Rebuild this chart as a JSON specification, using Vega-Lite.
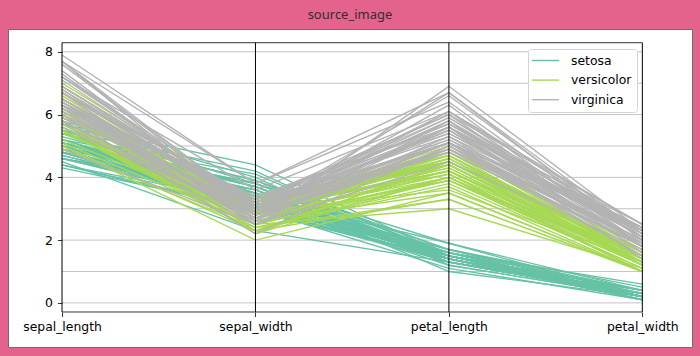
{
"$schema": "https://vega.github.io/schema/vega-lite/v6.json",
"width": 684, "height": 318,
"autosize": {"type": "none"},
"padding": {"left": 8, "top": 29, "right": 8, "bottom": 9},
"background": "#e4638d",
"title": {"text": "source_image", "anchor": "middle", "frame": "group", "orient": "top", "baseline": "alphabetic", "offset": -3, "font": "Noto Sans", "fontSize": 13, "fontWeight": "normal", "color": "#3b2a31"},
"config": {
  "view": {"fill": "white", "stroke": "#6e6e6e", "strokeWidth": 1},
  "axis": {"labelFont": "DejaVu Sans", "labelFontSize": 12.4, "labelColor": "#000000", "tickColor": "#000000", "tickWidth": 0.8, "tickSize": 4.5, "domain": false, "grid": false, "title": null},
  "legend": {"orient": "none", "legendX": 520, "legendY": 20, "title": null, "symbolType": "M-1.4,0H3.6", "symbolSize": 116.6, "symbolStrokeWidth": 1.4, "labelFont": "DejaVu Sans", "labelFontSize": 12.4, "labelColor": "#000000", "labelOffset": 25, "padding": 5, "rowPadding": 6.6, "strokeColor": "#d5d5d5", "cornerRadius": 3, "fillColor": "white"}
},
"datasets": {
"grid": [{"v":0,"key":"sepal_length","key2":"petal_width"},{"v":1,"key":"sepal_length","key2":"petal_width"},{"v":2,"key":"sepal_length","key2":"petal_width"},{"v":3,"key":"sepal_length","key2":"petal_width"},{"v":4,"key":"sepal_length","key2":"petal_width"},{"v":5,"key":"sepal_length","key2":"petal_width"},{"v":6,"key":"sepal_length","key2":"petal_width"},{"v":7,"key":"sepal_length","key2":"petal_width"},{"v":8,"key":"sepal_length","key2":"petal_width"}],
"vlines": [{"key":"sepal_length","lo":-0.29,"hi":8.29},{"key":"sepal_width","lo":-0.29,"hi":8.29},{"key":"petal_length","lo":-0.29,"hi":8.29},{"key":"petal_width","lo":-0.29,"hi":8.29}],
"spines": [{"key":"sepal_length","key2":"petal_width","v":8.29},{"key":"sepal_length","key2":"petal_width","v":-0.29}],
"iris": [
{"id":1,"species":"setosa","sepal_length":5.1,"sepal_width":3.5,"petal_length":1.4,"petal_width":0.2},
{"id":2,"species":"setosa","sepal_length":4.9,"sepal_width":3.0,"petal_length":1.4,"petal_width":0.2},
{"id":3,"species":"setosa","sepal_length":4.7,"sepal_width":3.2,"petal_length":1.3,"petal_width":0.2},
{"id":4,"species":"setosa","sepal_length":4.6,"sepal_width":3.1,"petal_length":1.5,"petal_width":0.2},
{"id":5,"species":"setosa","sepal_length":5.0,"sepal_width":3.6,"petal_length":1.4,"petal_width":0.2},
{"id":6,"species":"setosa","sepal_length":5.4,"sepal_width":3.9,"petal_length":1.7,"petal_width":0.4},
{"id":7,"species":"setosa","sepal_length":4.6,"sepal_width":3.4,"petal_length":1.4,"petal_width":0.3},
{"id":8,"species":"setosa","sepal_length":5.0,"sepal_width":3.4,"petal_length":1.5,"petal_width":0.2},
{"id":9,"species":"setosa","sepal_length":4.4,"sepal_width":2.9,"petal_length":1.4,"petal_width":0.2},
{"id":10,"species":"setosa","sepal_length":4.9,"sepal_width":3.1,"petal_length":1.5,"petal_width":0.1},
{"id":11,"species":"setosa","sepal_length":5.4,"sepal_width":3.7,"petal_length":1.5,"petal_width":0.2},
{"id":12,"species":"setosa","sepal_length":4.8,"sepal_width":3.4,"petal_length":1.6,"petal_width":0.2},
{"id":13,"species":"setosa","sepal_length":4.8,"sepal_width":3.0,"petal_length":1.4,"petal_width":0.1},
{"id":14,"species":"setosa","sepal_length":4.3,"sepal_width":3.0,"petal_length":1.1,"petal_width":0.1},
{"id":15,"species":"setosa","sepal_length":5.8,"sepal_width":4.0,"petal_length":1.2,"petal_width":0.2},
{"id":16,"species":"setosa","sepal_length":5.7,"sepal_width":4.4,"petal_length":1.5,"petal_width":0.4},
{"id":17,"species":"setosa","sepal_length":5.4,"sepal_width":3.9,"petal_length":1.3,"petal_width":0.4},
{"id":18,"species":"setosa","sepal_length":5.1,"sepal_width":3.5,"petal_length":1.4,"petal_width":0.3},
{"id":19,"species":"setosa","sepal_length":5.7,"sepal_width":3.8,"petal_length":1.7,"petal_width":0.3},
{"id":20,"species":"setosa","sepal_length":5.1,"sepal_width":3.8,"petal_length":1.5,"petal_width":0.3},
{"id":21,"species":"setosa","sepal_length":5.4,"sepal_width":3.4,"petal_length":1.7,"petal_width":0.2},
{"id":22,"species":"setosa","sepal_length":5.1,"sepal_width":3.7,"petal_length":1.5,"petal_width":0.4},
{"id":23,"species":"setosa","sepal_length":4.6,"sepal_width":3.6,"petal_length":1.0,"petal_width":0.2},
{"id":24,"species":"setosa","sepal_length":5.1,"sepal_width":3.3,"petal_length":1.7,"petal_width":0.5},
{"id":25,"species":"setosa","sepal_length":4.8,"sepal_width":3.4,"petal_length":1.9,"petal_width":0.2},
{"id":26,"species":"setosa","sepal_length":5.0,"sepal_width":3.0,"petal_length":1.6,"petal_width":0.2},
{"id":27,"species":"setosa","sepal_length":5.0,"sepal_width":3.4,"petal_length":1.6,"petal_width":0.4},
{"id":28,"species":"setosa","sepal_length":5.2,"sepal_width":3.5,"petal_length":1.5,"petal_width":0.2},
{"id":29,"species":"setosa","sepal_length":5.2,"sepal_width":3.4,"petal_length":1.4,"petal_width":0.2},
{"id":30,"species":"setosa","sepal_length":4.7,"sepal_width":3.2,"petal_length":1.6,"petal_width":0.2},
{"id":31,"species":"setosa","sepal_length":4.8,"sepal_width":3.1,"petal_length":1.6,"petal_width":0.2},
{"id":32,"species":"setosa","sepal_length":5.4,"sepal_width":3.4,"petal_length":1.5,"petal_width":0.4},
{"id":33,"species":"setosa","sepal_length":5.2,"sepal_width":4.1,"petal_length":1.5,"petal_width":0.1},
{"id":34,"species":"setosa","sepal_length":5.5,"sepal_width":4.2,"petal_length":1.4,"petal_width":0.2},
{"id":35,"species":"setosa","sepal_length":4.9,"sepal_width":3.1,"petal_length":1.5,"petal_width":0.2},
{"id":36,"species":"setosa","sepal_length":5.0,"sepal_width":3.2,"petal_length":1.2,"petal_width":0.2},
{"id":37,"species":"setosa","sepal_length":5.5,"sepal_width":3.5,"petal_length":1.3,"petal_width":0.2},
{"id":38,"species":"setosa","sepal_length":4.9,"sepal_width":3.6,"petal_length":1.4,"petal_width":0.1},
{"id":39,"species":"setosa","sepal_length":4.4,"sepal_width":3.0,"petal_length":1.3,"petal_width":0.2},
{"id":40,"species":"setosa","sepal_length":5.1,"sepal_width":3.4,"petal_length":1.5,"petal_width":0.2},
{"id":41,"species":"setosa","sepal_length":5.0,"sepal_width":3.5,"petal_length":1.3,"petal_width":0.3},
{"id":42,"species":"setosa","sepal_length":4.5,"sepal_width":2.3,"petal_length":1.3,"petal_width":0.3},
{"id":43,"species":"setosa","sepal_length":4.4,"sepal_width":3.2,"petal_length":1.3,"petal_width":0.2},
{"id":44,"species":"setosa","sepal_length":5.0,"sepal_width":3.5,"petal_length":1.6,"petal_width":0.6},
{"id":45,"species":"setosa","sepal_length":5.1,"sepal_width":3.8,"petal_length":1.9,"petal_width":0.4},
{"id":46,"species":"setosa","sepal_length":4.8,"sepal_width":3.0,"petal_length":1.4,"petal_width":0.3},
{"id":47,"species":"setosa","sepal_length":5.1,"sepal_width":3.8,"petal_length":1.6,"petal_width":0.2},
{"id":48,"species":"setosa","sepal_length":4.6,"sepal_width":3.2,"petal_length":1.4,"petal_width":0.2},
{"id":49,"species":"setosa","sepal_length":5.3,"sepal_width":3.7,"petal_length":1.5,"petal_width":0.2},
{"id":50,"species":"setosa","sepal_length":5.0,"sepal_width":3.3,"petal_length":1.4,"petal_width":0.2},
{"id":51,"species":"versicolor","sepal_length":7.0,"sepal_width":3.2,"petal_length":4.7,"petal_width":1.4},
{"id":52,"species":"versicolor","sepal_length":6.4,"sepal_width":3.2,"petal_length":4.5,"petal_width":1.5},
{"id":53,"species":"versicolor","sepal_length":6.9,"sepal_width":3.1,"petal_length":4.9,"petal_width":1.5},
{"id":54,"species":"versicolor","sepal_length":5.5,"sepal_width":2.3,"petal_length":4.0,"petal_width":1.3},
{"id":55,"species":"versicolor","sepal_length":6.5,"sepal_width":2.8,"petal_length":4.6,"petal_width":1.5},
{"id":56,"species":"versicolor","sepal_length":5.7,"sepal_width":2.8,"petal_length":4.5,"petal_width":1.3},
{"id":57,"species":"versicolor","sepal_length":6.3,"sepal_width":3.3,"petal_length":4.7,"petal_width":1.6},
{"id":58,"species":"versicolor","sepal_length":4.9,"sepal_width":2.4,"petal_length":3.3,"petal_width":1.0},
{"id":59,"species":"versicolor","sepal_length":6.6,"sepal_width":2.9,"petal_length":4.6,"petal_width":1.3},
{"id":60,"species":"versicolor","sepal_length":5.2,"sepal_width":2.7,"petal_length":3.9,"petal_width":1.4},
{"id":61,"species":"versicolor","sepal_length":5.0,"sepal_width":2.0,"petal_length":3.5,"petal_width":1.0},
{"id":62,"species":"versicolor","sepal_length":5.9,"sepal_width":3.0,"petal_length":4.2,"petal_width":1.5},
{"id":63,"species":"versicolor","sepal_length":6.0,"sepal_width":2.2,"petal_length":4.0,"petal_width":1.0},
{"id":64,"species":"versicolor","sepal_length":6.1,"sepal_width":2.9,"petal_length":4.7,"petal_width":1.4},
{"id":65,"species":"versicolor","sepal_length":5.6,"sepal_width":2.9,"petal_length":3.6,"petal_width":1.3},
{"id":66,"species":"versicolor","sepal_length":6.7,"sepal_width":3.1,"petal_length":4.4,"petal_width":1.4},
{"id":67,"species":"versicolor","sepal_length":5.6,"sepal_width":3.0,"petal_length":4.5,"petal_width":1.5},
{"id":68,"species":"versicolor","sepal_length":5.8,"sepal_width":2.7,"petal_length":4.1,"petal_width":1.0},
{"id":69,"species":"versicolor","sepal_length":6.2,"sepal_width":2.2,"petal_length":4.5,"petal_width":1.5},
{"id":70,"species":"versicolor","sepal_length":5.6,"sepal_width":2.5,"petal_length":3.9,"petal_width":1.1},
{"id":71,"species":"versicolor","sepal_length":5.9,"sepal_width":3.2,"petal_length":4.8,"petal_width":1.8},
{"id":72,"species":"versicolor","sepal_length":6.1,"sepal_width":2.8,"petal_length":4.0,"petal_width":1.3},
{"id":73,"species":"versicolor","sepal_length":6.3,"sepal_width":2.5,"petal_length":4.9,"petal_width":1.5},
{"id":74,"species":"versicolor","sepal_length":6.1,"sepal_width":2.8,"petal_length":4.7,"petal_width":1.2},
{"id":75,"species":"versicolor","sepal_length":6.4,"sepal_width":2.9,"petal_length":4.3,"petal_width":1.3},
{"id":76,"species":"versicolor","sepal_length":6.6,"sepal_width":3.0,"petal_length":4.4,"petal_width":1.4},
{"id":77,"species":"versicolor","sepal_length":6.8,"sepal_width":2.8,"petal_length":4.8,"petal_width":1.4},
{"id":78,"species":"versicolor","sepal_length":6.7,"sepal_width":3.0,"petal_length":5.0,"petal_width":1.7},
{"id":79,"species":"versicolor","sepal_length":6.0,"sepal_width":2.9,"petal_length":4.5,"petal_width":1.5},
{"id":80,"species":"versicolor","sepal_length":5.7,"sepal_width":2.6,"petal_length":3.5,"petal_width":1.0},
{"id":81,"species":"versicolor","sepal_length":5.5,"sepal_width":2.4,"petal_length":3.8,"petal_width":1.1},
{"id":82,"species":"versicolor","sepal_length":5.5,"sepal_width":2.4,"petal_length":3.7,"petal_width":1.0},
{"id":83,"species":"versicolor","sepal_length":5.8,"sepal_width":2.7,"petal_length":3.9,"petal_width":1.2},
{"id":84,"species":"versicolor","sepal_length":6.0,"sepal_width":2.7,"petal_length":5.1,"petal_width":1.6},
{"id":85,"species":"versicolor","sepal_length":5.4,"sepal_width":3.0,"petal_length":4.5,"petal_width":1.5},
{"id":86,"species":"versicolor","sepal_length":6.0,"sepal_width":3.4,"petal_length":4.5,"petal_width":1.6},
{"id":87,"species":"versicolor","sepal_length":6.7,"sepal_width":3.1,"petal_length":4.7,"petal_width":1.5},
{"id":88,"species":"versicolor","sepal_length":6.3,"sepal_width":2.3,"petal_length":4.4,"petal_width":1.3},
{"id":89,"species":"versicolor","sepal_length":5.6,"sepal_width":3.0,"petal_length":4.1,"petal_width":1.3},
{"id":90,"species":"versicolor","sepal_length":5.5,"sepal_width":2.5,"petal_length":4.0,"petal_width":1.3},
{"id":91,"species":"versicolor","sepal_length":5.5,"sepal_width":2.6,"petal_length":4.4,"petal_width":1.2},
{"id":92,"species":"versicolor","sepal_length":6.1,"sepal_width":3.0,"petal_length":4.6,"petal_width":1.4},
{"id":93,"species":"versicolor","sepal_length":5.8,"sepal_width":2.6,"petal_length":4.0,"petal_width":1.2},
{"id":94,"species":"versicolor","sepal_length":5.0,"sepal_width":2.3,"petal_length":3.3,"petal_width":1.0},
{"id":95,"species":"versicolor","sepal_length":5.6,"sepal_width":2.7,"petal_length":4.2,"petal_width":1.3},
{"id":96,"species":"versicolor","sepal_length":5.7,"sepal_width":3.0,"petal_length":4.2,"petal_width":1.2},
{"id":97,"species":"versicolor","sepal_length":5.7,"sepal_width":2.9,"petal_length":4.2,"petal_width":1.3},
{"id":98,"species":"versicolor","sepal_length":6.2,"sepal_width":2.9,"petal_length":4.3,"petal_width":1.3},
{"id":99,"species":"versicolor","sepal_length":5.1,"sepal_width":2.5,"petal_length":3.0,"petal_width":1.1},
{"id":100,"species":"versicolor","sepal_length":5.7,"sepal_width":2.8,"petal_length":4.1,"petal_width":1.3},
{"id":101,"species":"virginica","sepal_length":6.3,"sepal_width":3.3,"petal_length":6.0,"petal_width":2.5},
{"id":102,"species":"virginica","sepal_length":5.8,"sepal_width":2.7,"petal_length":5.1,"petal_width":1.9},
{"id":103,"species":"virginica","sepal_length":7.1,"sepal_width":3.0,"petal_length":5.9,"petal_width":2.1},
{"id":104,"species":"virginica","sepal_length":6.3,"sepal_width":2.9,"petal_length":5.6,"petal_width":1.8},
{"id":105,"species":"virginica","sepal_length":6.5,"sepal_width":3.0,"petal_length":5.8,"petal_width":2.2},
{"id":106,"species":"virginica","sepal_length":7.6,"sepal_width":3.0,"petal_length":6.6,"petal_width":2.1},
{"id":107,"species":"virginica","sepal_length":4.9,"sepal_width":2.5,"petal_length":4.5,"petal_width":1.7},
{"id":108,"species":"virginica","sepal_length":7.3,"sepal_width":2.9,"petal_length":6.3,"petal_width":1.8},
{"id":109,"species":"virginica","sepal_length":6.7,"sepal_width":2.5,"petal_length":5.8,"petal_width":1.8},
{"id":110,"species":"virginica","sepal_length":7.2,"sepal_width":3.6,"petal_length":6.1,"petal_width":2.5},
{"id":111,"species":"virginica","sepal_length":6.5,"sepal_width":3.2,"petal_length":5.1,"petal_width":2.0},
{"id":112,"species":"virginica","sepal_length":6.4,"sepal_width":2.7,"petal_length":5.3,"petal_width":1.9},
{"id":113,"species":"virginica","sepal_length":6.8,"sepal_width":3.0,"petal_length":5.5,"petal_width":2.1},
{"id":114,"species":"virginica","sepal_length":5.7,"sepal_width":2.5,"petal_length":5.0,"petal_width":2.0},
{"id":115,"species":"virginica","sepal_length":5.8,"sepal_width":2.8,"petal_length":5.1,"petal_width":2.4},
{"id":116,"species":"virginica","sepal_length":6.4,"sepal_width":3.2,"petal_length":5.3,"petal_width":2.3},
{"id":117,"species":"virginica","sepal_length":6.5,"sepal_width":3.0,"petal_length":5.5,"petal_width":1.8},
{"id":118,"species":"virginica","sepal_length":7.7,"sepal_width":3.8,"petal_length":6.7,"petal_width":2.2},
{"id":119,"species":"virginica","sepal_length":7.7,"sepal_width":2.6,"petal_length":6.9,"petal_width":2.3},
{"id":120,"species":"virginica","sepal_length":6.0,"sepal_width":2.2,"petal_length":5.0,"petal_width":1.5},
{"id":121,"species":"virginica","sepal_length":6.9,"sepal_width":3.2,"petal_length":5.7,"petal_width":2.3},
{"id":122,"species":"virginica","sepal_length":5.6,"sepal_width":2.8,"petal_length":4.9,"petal_width":2.0},
{"id":123,"species":"virginica","sepal_length":7.7,"sepal_width":2.8,"petal_length":6.7,"petal_width":2.0},
{"id":124,"species":"virginica","sepal_length":6.3,"sepal_width":2.7,"petal_length":4.9,"petal_width":1.8},
{"id":125,"species":"virginica","sepal_length":6.7,"sepal_width":3.3,"petal_length":5.7,"petal_width":2.1},
{"id":126,"species":"virginica","sepal_length":7.2,"sepal_width":3.2,"petal_length":6.0,"petal_width":1.8},
{"id":127,"species":"virginica","sepal_length":6.2,"sepal_width":2.8,"petal_length":4.8,"petal_width":1.8},
{"id":128,"species":"virginica","sepal_length":6.1,"sepal_width":3.0,"petal_length":4.9,"petal_width":1.8},
{"id":129,"species":"virginica","sepal_length":6.4,"sepal_width":2.8,"petal_length":5.6,"petal_width":2.1},
{"id":130,"species":"virginica","sepal_length":7.2,"sepal_width":3.0,"petal_length":5.8,"petal_width":1.6},
{"id":131,"species":"virginica","sepal_length":7.4,"sepal_width":2.8,"petal_length":6.1,"petal_width":1.9},
{"id":132,"species":"virginica","sepal_length":7.9,"sepal_width":3.8,"petal_length":6.4,"petal_width":2.0},
{"id":133,"species":"virginica","sepal_length":6.4,"sepal_width":2.8,"petal_length":5.6,"petal_width":2.2},
{"id":134,"species":"virginica","sepal_length":6.3,"sepal_width":2.8,"petal_length":5.1,"petal_width":1.5},
{"id":135,"species":"virginica","sepal_length":6.1,"sepal_width":2.6,"petal_length":5.6,"petal_width":1.4},
{"id":136,"species":"virginica","sepal_length":7.7,"sepal_width":3.0,"petal_length":6.1,"petal_width":2.3},
{"id":137,"species":"virginica","sepal_length":6.3,"sepal_width":3.4,"petal_length":5.6,"petal_width":2.4},
{"id":138,"species":"virginica","sepal_length":6.4,"sepal_width":3.1,"petal_length":5.5,"petal_width":1.8},
{"id":139,"species":"virginica","sepal_length":6.0,"sepal_width":3.0,"petal_length":4.8,"petal_width":1.8},
{"id":140,"species":"virginica","sepal_length":6.9,"sepal_width":3.1,"petal_length":5.4,"petal_width":2.1},
{"id":141,"species":"virginica","sepal_length":6.7,"sepal_width":3.1,"petal_length":5.6,"petal_width":2.4},
{"id":142,"species":"virginica","sepal_length":6.9,"sepal_width":3.1,"petal_length":5.1,"petal_width":2.3},
{"id":143,"species":"virginica","sepal_length":5.8,"sepal_width":2.7,"petal_length":5.1,"petal_width":1.9},
{"id":144,"species":"virginica","sepal_length":6.8,"sepal_width":3.2,"petal_length":5.9,"petal_width":2.3},
{"id":145,"species":"virginica","sepal_length":6.7,"sepal_width":3.3,"petal_length":5.7,"petal_width":2.5},
{"id":146,"species":"virginica","sepal_length":6.7,"sepal_width":3.0,"petal_length":5.2,"petal_width":2.3},
{"id":147,"species":"virginica","sepal_length":6.3,"sepal_width":2.5,"petal_length":5.0,"petal_width":1.9},
{"id":148,"species":"virginica","sepal_length":6.5,"sepal_width":3.0,"petal_length":5.2,"petal_width":2.0},
{"id":149,"species":"virginica","sepal_length":6.2,"sepal_width":3.4,"petal_length":5.4,"petal_width":2.3},
{"id":150,"species":"virginica","sepal_length":5.9,"sepal_width":3.0,"petal_length":5.1,"petal_width":1.8}
]
},
"layer": [
  {
    "data": {"name": "grid"},
    "mark": {"type": "rule", "color": "#b0b0b0", "strokeWidth": 0.75},
    "encoding": {
      "x": {"field": "key", "type": "ordinal"},
      "x2": {"field": "key2"},
      "y": {"field": "v", "type": "quantitative"}
    }
  },
  {
    "data": {"name": "iris"},
    "transform": [{"fold": ["sepal_length", "sepal_width", "petal_length", "petal_width"], "as": ["key", "value"]}],
    "mark": {"type": "line", "strokeWidth": 1.35},
    "encoding": {
      "x": {"field": "key", "type": "ordinal", "sort": ["sepal_length", "sepal_width", "petal_length", "petal_width"],
            "scale": {"type": "point", "domain": ["sepal_length", "sepal_width", "petal_length", "petal_width"], "padding": 0.268, "align": 0.521},
            "axis": {"orient": "bottom", "offset": -35, "labelAngle": 0, "labelAlign": "center", "labelPadding": 4, "labelBaseline": "top"}},
      "y": {"field": "value", "type": "quantitative",
            "scale": {"domain": [-1.4055, 8.7267], "nice": false, "zero": false},
            "axis": {"orient": "left", "offset": -54, "values": [0, 1, 2, 3, 4, 5, 6, 7, 8], "labelPadding": 5}},
      "color": {"field": "species", "type": "nominal",
                "scale": {"domain": ["setosa", "versicolor", "virginica"], "range": ["#66c2a5", "#a6d854", "#b3b3b3"]}},
      "detail": {"field": "id", "type": "nominal"}
    }
  },
  {
    "data": {"name": "vlines"},
    "mark": {"type": "rule", "color": "#000000", "strokeWidth": 1},
    "encoding": {
      "x": {"field": "key", "type": "ordinal"},
      "y": {"field": "lo", "type": "quantitative"},
      "y2": {"field": "hi"}
    }
  },
  {
    "data": {"name": "spines"},
    "mark": {"type": "rule", "color": "#000000", "strokeWidth": 0.8},
    "encoding": {
      "x": {"field": "key", "type": "ordinal"},
      "x2": {"field": "key2"},
      "y": {"field": "v", "type": "quantitative"}
    }
  }
]
}
